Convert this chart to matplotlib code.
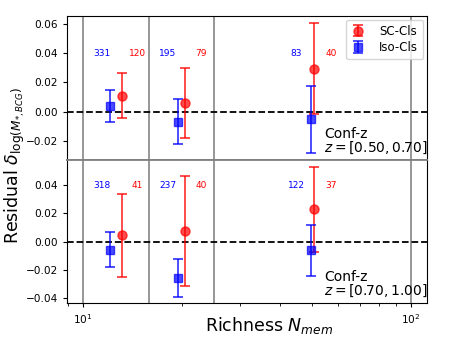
import matplotlib
matplotlib.use("Agg")
import matplotlib.pyplot as plt
import numpy as np

# Bin edges (richness)
bin_edges = [10 ** 1.0, 10 ** 1.2, 10 ** 1.4, 10 ** 2.0]

# Panel 1: z = [0.50, 0.70]
iso_x1 = [12.1, 19.5, 49.6]
iso_y1 = [0.0039, -0.0068, -0.0052]
iso_lo1 = [0.0109, 0.0152, 0.0232]
iso_hi1 = [0.0109, 0.0157, 0.0227]
sc_x1 = [13.1, 20.5, 50.6]
sc_y1 = [0.0109, 0.0059, 0.0294]
sc_lo1 = [0.0154, 0.0239, 0.0310]
sc_hi1 = [0.0155, 0.0241, 0.0309]
iso_n1 = ["331", "195", "83"]
sc_n1 = ["120", "79", "40"]

# Panel 2: z = [0.70, 1.00]
iso_x2 = [12.1, 19.5, 49.6]
iso_y2 = [-0.0059, -0.0257, -0.0059]
iso_lo2 = [0.0120, 0.0132, 0.0181]
iso_hi2 = [0.0125, 0.0135, 0.0175]
sc_x2 = [13.1, 20.5, 50.6]
sc_y2 = [0.0045, 0.0076, 0.0229]
sc_lo2 = [0.0292, 0.0391, 0.0302]
sc_hi2 = [0.0292, 0.0388, 0.0301]
iso_n2 = ["318", "237", "122"]
sc_n2 = ["41", "40", "37"]

num_x_iso = [11.4, 18.1, 44.6]
num_x_sc = [14.6, 22.9, 57.0]

zlabels = ["Conf-z\n$z=[0.50, 0.70]$", "Conf-z\n$z=[0.70, 1.00]$"]

fig = plt.figure(figsize=(4.5, 3.37), dpi=100)
ax1 = fig.add_axes([0.149, 0.525, 0.800, 0.428])
ax2 = fig.add_axes([0.149, 0.101, 0.800, 0.424], sharex=ax1)

panels = [
    (ax1, iso_x1, iso_y1, iso_lo1, iso_hi1, sc_x1, sc_y1, sc_lo1, sc_hi1, iso_n1, sc_n1, (-0.033, 0.0655), [-0.02, 0.0, 0.02, 0.04, 0.06]),
    (ax2, iso_x2, iso_y2, iso_lo2, iso_hi2, sc_x2, sc_y2, sc_lo2, sc_hi2, iso_n2, sc_n2, (-0.0433, 0.0577), [-0.04, -0.02, 0.0, 0.02, 0.04]),
]

for i, (ax, ix, iy, ilo, ihi, sx, sy, slo, shi, inn, snn, ylim, yt) in enumerate(panels):
    ax.set_xscale("log")
    for e in bin_edges:
        ax.axvline(e, color="0.45", lw=1.3, alpha=0.8, zorder=0)
    ax.axhline(0.0, color="k", ls="--", lw=1.3, zorder=1)
    ax.errorbar(sx, sy, yerr=[slo, shi], fmt="o", color="red", alpha=0.7,
                ms=6.5, capsize=3.5, elinewidth=1.4, capthick=1.4, label="SC-Cls", zorder=3)
    ax.errorbar(ix, iy, yerr=[ilo, ihi], fmt="s", color="blue", alpha=0.7,
                ms=6, capsize=3.5, elinewidth=1.4, capthick=1.4, label="Iso-Cls", zorder=3)
    for xx, t in zip(num_x_iso, inn):
        ax.text(xx, 0.04, t, color="blue", fontsize=6.5, ha="center", va="center")
    for xx, t in zip(num_x_sc, snn):
        ax.text(xx, 0.04, t, color="red", fontsize=6.5, ha="center", va="center")
    ax.text(0.715, 0.025, zlabels[i], transform=ax.transAxes, fontsize=10,
            ha="left", va="bottom", linespacing=0.95)
    ax.set_ylim(*ylim)
    ax.set_yticks(yt)
    ax.set_yticklabels([f"{v:.2f}".replace("-", "\u2212") for v in yt])
    ax.tick_params(axis="both", labelsize=7.6, length=3)
    ax.tick_params(axis="x", which="minor", length=2)

ax1.set_xlim(8.93, 112)
ax1.tick_params(axis="x", which="both", bottom=False, labelbottom=False)
ax1.spines["bottom"].set_color("0.5")
ax1.spines["bottom"].set_linewidth(1.3)
ax2.spines["top"].set_color("0.5")
ax2.spines["top"].set_linewidth(1.3)

ax1.legend(loc="upper right", fontsize=8.5, handlelength=1.2, borderpad=0.4,
           labelspacing=0.3, handletextpad=1.2, borderaxespad=0.35)

fig.text(0.598, 0.035, "Richness $N_{mem}$", fontsize=12.5, ha="center", va="center")
fig.text(0.033, 0.51, r"Residual $\delta_{\log(M_{*,BCG})}$", rotation=90,
         fontsize=12.5, ha="center", va="center")

fig.savefig("out.png", dpi=100)
